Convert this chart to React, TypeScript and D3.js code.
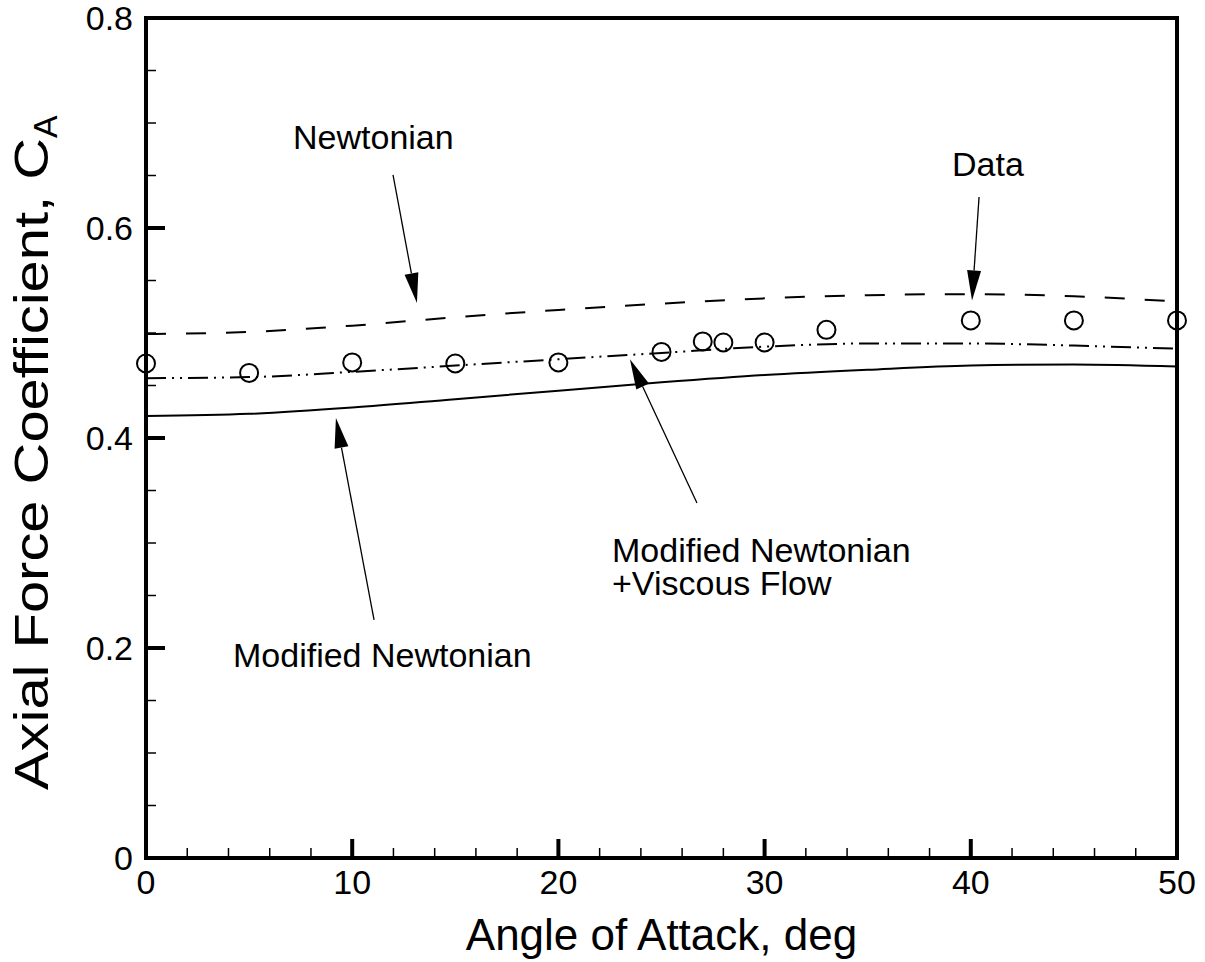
import React, { useEffect, useRef } from "react";
import * as d3 from "d3";

// angle of attack (deg) for the theory curves
const alphaTheory = [0, 5, 10, 15, 20, 25, 30, 35, 40, 45, 50];
const newtonian = [0.499, 0.501, 0.507, 0.515, 0.522, 0.528, 0.533, 0.536, 0.537, 0.535, 0.530];
const modNewtViscous = [0.457, 0.458, 0.463, 0.469, 0.475, 0.481, 0.487, 0.490, 0.490, 0.488, 0.485];
const modNewtonian = [0.421, 0.423, 0.429, 0.437, 0.445, 0.453, 0.460, 0.465, 0.469, 0.470, 0.468];

// experiment
const alphaData = [0, 5, 10, 15, 20, 25, 27, 28, 30, 33, 40, 45, 50];
const caData = [0.471, 0.462, 0.472, 0.471, 0.472, 0.482, 0.492, 0.491, 0.491, 0.503, 0.512, 0.512, 0.512];

const xMajor = [0, 10, 20, 30, 40, 50];
const yMajor = [0, 0.2, 0.4, 0.6, 0.8];
const yTickLabels = ["0", "0.2", "0.4", "0.6", "0.8"];

// callouts in data units: [label lines], label anchor, arrow tail, arrow tip
const notes = [
  { lines: ["Newtonian"], at: [7.13, 0.675], tail: [11.98, 0.6505], tip: [13.14, 0.5286] },
  { lines: ["Data"], at: [39.09, 0.65], tail: [40.4, 0.6295], tip: [40.06, 0.531] },
  { lines: ["Modified Newtonian"], at: [4.22, 0.182], tail: [11.06, 0.2267], tip: [9.21, 0.419] },
  { lines: ["Modified Newtonian", "+Viscous Flow"], at: [22.6, 0.282], tail: [26.72, 0.338], tip: [23.47, 0.475] },
];

const W = 1205;
const H = 962;
const FONT = "Liberation Sans, Arial, Helvetica, sans-serif";

const App: React.FC = () => {
  const ref = useRef<SVGSVGElement | null>(null);

  useEffect(() => {
    if (!ref.current) return;
    const svg = d3.select(ref.current);
    svg.selectAll("*").remove();

    const x = d3.scaleLinear().domain([0, 50]).range([146, 1177]);
    const y = d3.scaleLinear().domain([0, 0.8]).range([858, 18]);
    const [x0, x1] = x.range();
    const [y0, y1] = y.range();

    const line = d3.line<[number, number]>()
      .x(d => x(d[0]))
      .y(d => y(d[1]))
      .curve(d3.curveMonotoneX);

    const g = svg.append("g");

    g.append("path")
      .datum(alphaTheory.map((a, i) => [a, newtonian[i]] as [number, number]))
      .attr("d", line)
      .attr("fill", "none")
      .attr("stroke", "#000")
      .attr("stroke-width", 2)
      .attr("stroke-dasharray", "20,20");

    g.append("path")
      .datum(alphaTheory.map((a, i) => [a, modNewtViscous[i]] as [number, number]))
      .attr("d", line)
      .attr("fill", "none")
      .attr("stroke", "#000")
      .attr("stroke-width", 2)
      .attr("stroke-dasharray", "20,6,2,6,2,6");

    g.append("path")
      .datum(alphaTheory.map((a, i) => [a, modNewtonian[i]] as [number, number]))
      .attr("d", line)
      .attr("fill", "none")
      .attr("stroke", "#000")
      .attr("stroke-width", 2);

    g.selectAll("circle.pt")
      .data(alphaData.map((a, i) => [a, caData[i]]))
      .enter()
      .append("circle")
      .attr("class", "pt")
      .attr("cx", d => x(d[0]))
      .attr("cy", d => y(d[1]))
      .attr("r", 9)
      .attr("fill", "none")
      .attr("stroke", "#000")
      .attr("stroke-width", 2);

    // minor ticks
    const xMinor = d3.range(0, 50.001, 2).filter(v => !xMajor.includes(v));
    const yMinor = d3.range(0, 0.8001, 0.05).filter(v => !yMajor.some(m => Math.abs(m - v) < 1e-6));

    g.selectAll("line.xmin").data(xMinor).enter().append("line")
      .attr("x1", d => x(d)).attr("x2", d => x(d))
      .attr("y1", y0).attr("y2", y0 - 10)
      .attr("stroke", "#000").attr("stroke-width", 1.5);
    g.selectAll("line.xmaj").data(xMajor).enter().append("line")
      .attr("x1", d => x(d)).attr("x2", d => x(d))
      .attr("y1", y0).attr("y2", y0 - 19)
      .attr("stroke", "#000").attr("stroke-width", 4);
    g.selectAll("line.ymin").data(yMinor).enter().append("line")
      .attr("x1", x0).attr("x2", x0 + 10)
      .attr("y1", d => y(d)).attr("y2", d => y(d))
      .attr("stroke", "#000").attr("stroke-width", 1.5);
    g.selectAll("line.ymaj").data(yMajor).enter().append("line")
      .attr("x1", x0).attr("x2", x0 + 19)
      .attr("y1", d => y(d)).attr("y2", d => y(d))
      .attr("stroke", "#000").attr("stroke-width", 4);

    // frame
    g.append("rect")
      .attr("x", x0).attr("y", y1)
      .attr("width", x1 - x0).attr("height", y0 - y1)
      .attr("fill", "none").attr("stroke", "#000").attr("stroke-width", 4);

    // tick labels
    g.selectAll("text.xl").data(xMajor).enter().append("text")
      .attr("x", d => x(d)).attr("y", 894)
      .attr("text-anchor", "middle")
      .attr("font-family", FONT).attr("font-size", 34)
      .text(d => String(d));
    g.selectAll("text.yl").data(yMajor).enter().append("text")
      .attr("x", 133).attr("y", d => y(d))
      .attr("dy", "0.35em")
      .attr("text-anchor", "end")
      .attr("font-family", FONT).attr("font-size", 34)
      .text((d, i) => yTickLabels[i]);

    // axis titles
    g.append("text")
      .attr("x", (x0 + x1) / 2).attr("y", 950)
      .attr("text-anchor", "middle")
      .attr("font-family", FONT).attr("font-size", 44)
      .text("Angle of Attack, deg");

    const yt = g.append("text")
      .attr("transform", `translate(48,790) rotate(-90)`)
      .attr("text-anchor", "start")
      .attr("font-family", FONT).attr("font-size", 48);
    yt.append("tspan")
      .attr("textLength", 652)
      .attr("lengthAdjust", "spacingAndGlyphs")
      .text("Axial Force Coefficient, C");
    yt.append("tspan").attr("font-size", 34).attr("dy", 9).text("A");

    // callouts
    notes.forEach(n => {
      const tx = x(n.tail[0]), ty = y(n.tail[1]);
      const px = x(n.tip[0]), py = y(n.tip[1]);
      const len = Math.hypot(px - tx, py - ty);
      const ux = (px - tx) / len, uy = (py - ty) / len;
      const hl = 30, hw = 7;
      const bx = px - ux * hl, by = py - uy * hl;
      g.append("line")
        .attr("x1", tx).attr("y1", ty).attr("x2", bx).attr("y2", by)
        .attr("stroke", "#000").attr("stroke-width", 1.3);
      g.append("polygon")
        .attr("points", [
          [px, py],
          [bx - uy * hw, by + ux * hw],
          [bx + uy * hw, by - ux * hw],
        ].map(p => p.join(",")).join(" "))
        .attr("fill", "#000");
      n.lines.forEach((s, i) => {
        g.append("text")
          .attr("x", x(n.at[0])).attr("y", y(n.at[1]) + i * 33)
          .attr("font-family", FONT).attr("font-size", 34)
          .text(s);
      });
    });
  }, []);

  return (
    <svg
      ref={ref}
      width={W}
      height={H}
      style={{ position: "absolute", left: 0, top: 0, background: "#fff" }}
    />
  );
};

export default App;
